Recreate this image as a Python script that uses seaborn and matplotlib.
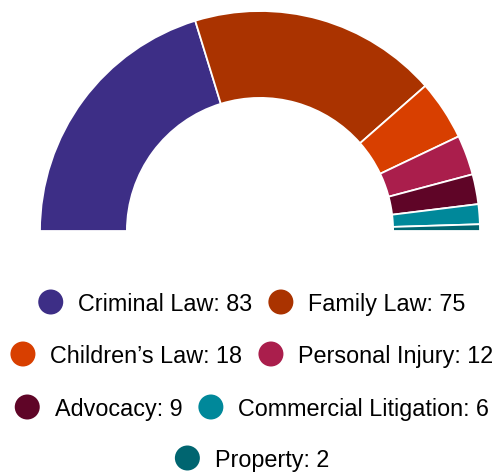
import matplotlib
matplotlib.use("Agg")
import matplotlib.pyplot as plt
import seaborn as sns

categories = ["Criminal Law", "Family Law", "Children\u2019s Law", "Personal Injury",
              "Advocacy", "Commercial Litigation", "Property"]
values = [83, 75, 18, 12, 9, 6, 2]
hex_colors = ["#3d2e86", "#aa3300", "#d83f00", "#aa1e4c", "#5f0527", "#00889a", "#006570"]
legend_rows = [[0, 1], [2, 3], [4, 5], [6]]

sns.set_theme(style="white")
plt.rcParams["font.family"] = ["Liberation Sans", "DejaVu Sans"]
palette = sns.color_palette(hex_colors)

W, H = 494, 472
fig = plt.figure(figsize=(W / 100, H / 100), dpi=100)
ax = fig.add_axes([0, 0, 1, 1])

# Half donut: a transparent slice of equal size fills the lower half
total = sum(values)
cx, cy, R = 260, H - 231, 220
wedges, _ = ax.pie(values + [total], colors=list(palette) + [(1, 1, 1, 0)],
                   startangle=180, counterclock=False, center=(cx, cy), radius=R,
                   wedgeprops=dict(width=R * 0.395, edgecolor="white", linewidth=1.3))
wedges[-1].set_edgecolor("none")

ax.set_xlim(0, W)
ax.set_ylim(0, H)
ax.set_aspect("equal")
ax.axis("off")

# Legend rows, centred, with circular markers
fig.canvas.draw()
renderer = fig.canvas.get_renderer()
fs = 16.8
mr = 12.5
gap_text = 15
gap_item = 16
row_y = [302, 354, 407, 458]
center_x = 252
for row, py in zip(legend_rows, row_y):
    labels = [f"{categories[i]}: {values[i]}" for i in row]
    widths = []
    for lab in labels:
        t = ax.text(0, 0, lab, fontsize=fs)
        widths.append(t.get_window_extent(renderer).width)
        t.remove()
    item_w = [2 * mr + gap_text + w for w in widths]
    total_w = sum(item_w) + gap_item * (len(row) - 1)
    x = center_x - total_w / 2
    for i, lab, iw in zip(row, labels, item_w):
        ax.add_patch(plt.Circle((x + mr, H - py), mr, color=palette[i], lw=0))
        ax.text(x + 2 * mr + gap_text, H - py, lab, fontsize=fs, color="#000000",
                va="center_baseline", ha="left")
        x += iw + gap_item

fig.savefig("out.png", dpi=100)
